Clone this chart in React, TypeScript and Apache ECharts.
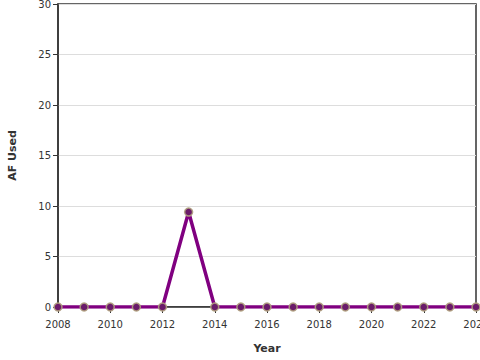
import React, { useEffect, useRef } from "react";
import * as echarts from "echarts";

const years = [2008, 2009, 2010, 2011, 2012, 2013, 2014, 2015, 2016, 2017, 2018, 2019, 2020, 2021, 2022, 2023, 2024];
const afUsed = [0, 0, 0, 0, 0, 9.4, 0, 0, 0, 0, 0, 0, 0, 0, 0, 0, 0];

export default function App() {
  const ref = useRef<HTMLDivElement>(null);
  useEffect(() => {
    if (!ref.current) return;
    const chart = echarts.init(ref.current, null, { renderer: "svg" });
    const font = "DejaVu Sans";
    chart.setOption({
      animation: false,
      grid: {
        left: 58, right: 4, top: 4, bottom: 53,
        containLabel: false, outerBoundsMode: "none",
        show: true, borderColor: "#333", borderWidth: 1.5, backgroundColor: "transparent",
      },
      xAxis: {
        type: "value",
        min: 2008,
        max: 2024,
        interval: 2,
        name: "Year",
        nameLocation: "middle",
        nameGap: 36,
        nameTextStyle: { fontFamily: font, fontSize: 11, fontWeight: "bold", color: "#333" },
        axisLine: { show: true, lineStyle: { color: "#333", width: 1.5 } },
        axisTick: { show: true, length: 6, lineStyle: { color: "#333" } },
        axisLabel: { fontFamily: font, fontSize: 10, color: "#333", margin: 12, formatter: (v: number) => String(v) },
        splitLine: { show: false },
      },
      yAxis: {
        type: "value",
        min: 0,
        max: 30,
        interval: 5,
        name: "AF Used",
        nameLocation: "middle",
        nameGap: 40,
        nameTextStyle: { fontFamily: font, fontSize: 11, fontWeight: "bold", color: "#333" },
        axisLine: { show: true, lineStyle: { color: "#333", width: 1.5 } },
        axisTick: { show: true, length: 5, lineStyle: { color: "#333" } },
        axisLabel: { fontFamily: font, fontSize: 10, color: "#333", margin: 7 },
        splitLine: { show: true, lineStyle: { color: "#ddd", width: 1 } },
      },
      series: [
        {
          type: "line",
          data: years.map((y, i) => [y, afUsed[i]]),
          lineStyle: { color: "#800080", width: 3.5 },
          itemStyle: { color: "#6a1b6a", borderColor: "rgba(175,160,125,0.9)", borderWidth: 1.5 },
          symbol: "circle",
          symbolSize: 8,
          z: 5,
        },
      ],
    });
    return () => chart.dispose();
  }, []);
  return <div ref={ref} style={{ position: "absolute", left: 0, top: 0, width: 480, height: 360 }} />;
}
